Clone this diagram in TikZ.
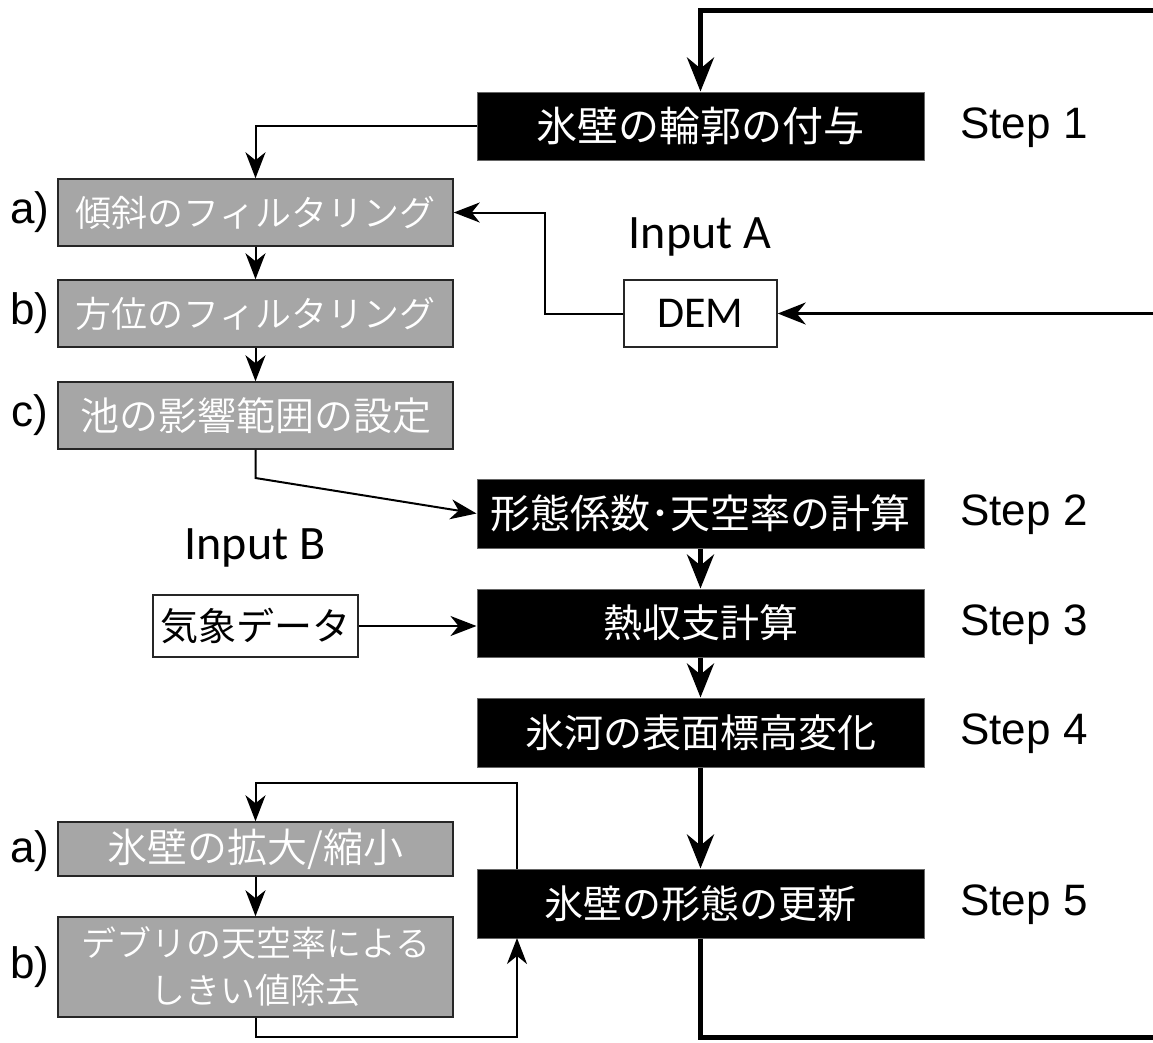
\documentclass[tikz,border=0pt]{standalone}
\usepackage{fontspec}
\setmainfont{Liberation Sans}
\newfontfamily\jpfont{Noto Sans CJK JP}
\newfontfamily\jplight{Noto Sans CJK JP}[UprightFont=* DemiLight]
\newfontfamily\calfont{Carlito}
\usetikzlibrary{arrows.meta,calc}
\begin{document}
\begin{tikzpicture}[x=1pt,y=-1pt,
  stepbox/.style={draw=black!60,line width=1pt,fill=black,text=white,minimum width=447pt,minimum height=68pt,inner sep=0pt,font=\jpfont\fontsize{39}{44}\selectfont},
  graybox/.style={draw=black!85,line width=1.5pt,fill=black!35,text=white,minimum width=395pt,minimum height=67pt,inner sep=0pt,font=\jplight\fontsize{36}{46}\selectfont,align=center},
  inbox/.style={draw=black!85,line width=1.5pt,fill=white,inner sep=0pt},
  steplabel/.style={font=\fontsize{44}{48}\selectfont},
  sublabel/.style={font=\fontsize{44}{48}\selectfont},
  thinline/.style={line width=2pt,-{Stealth[length=26pt,width=20pt,inset=8pt]}},
  thickline/.style={line width=5pt,-{Stealth[length=34pt,width=27pt,inset=11pt]}},
  midline/.style={line width=3pt,-{Stealth[length=28pt,width=22pt,inset=9pt]}}
]
\useasboundingbox (0,0) rectangle (1153,1042);
% steps
\node[stepbox,font=\jpfont\fontsize{41}{44}\selectfont] (s1) at (700.5,126) {氷壁の輪郭の付与};
\node[stepbox,minimum height=69pt,font=\jpfont\fontsize{40}{44}\selectfont] (s2) at (700.5,513.5) {形態係数･天空率の計算};
\node[stepbox] (s3) at (700.5,623) {熱収支計算};
\node[stepbox,minimum height=69pt] (s4) at (700.5,732.5) {氷河の表面標高変化};
\node[stepbox,minimum height=69pt] (s5) at (700.5,903.5) {氷壁の形態の更新};
\node[steplabel] (l1) at (1024,128) {Step 1};
\node[steplabel] (l2) at (1024,515) {Step 2};
\node[steplabel] (l3) at (1024,625) {Step 3};
\node[steplabel] (l4) at (1024,734) {Step 4};
\node[steplabel] (l5) at (1024,905) {Step 5};
% gray boxes top
\node[graybox] (ga) at (255.5,212.5) {傾斜のフィルタリング};
\node[graybox] (gb) at (255.5,313.5) {方位のフィルタリング};
\node[graybox,font=\jplight\fontsize{39}{46}\selectfont] (gc) at (255.5,415.5) {池の影響範囲の設定};
\node[sublabel] (la) at (30,212) {a)};
\node[sublabel] (lb) at (30,313) {b)};
\node[sublabel] (lc) at (30,415) {c)};
% inputs
\node[inbox,minimum width=153pt,minimum height=67pt,font=\calfont\fontsize{44}{48}\selectfont] (dem) at (700.5,313.5) {DEM};
\node[font=\calfont\fontsize{48}{52}\selectfont] (ia) at (700,237) {Input A};
\node[inbox,minimum width=205pt,minimum height=62pt,font=\jpfont\fontsize{38}{44}\selectfont] (met) at (255.5,626) {気象データ};
\node[font=\calfont\fontsize{48}{52}\selectfont] (ib) at (255,548) {Input B};
% gray boxes bottom
\node[graybox,minimum height=54pt,font=\jplight\fontsize{40}{46}\selectfont] (ha) at (255.5,849) {氷壁の拡大/縮小};
\node[graybox,minimum height=100pt,font=\jplight\fontsize{35}{47}\selectfont] (hb) at (255.5,967) {デブリの天空率による\\しきい値除去};
\node[sublabel] (lha) at (30,851) {a)};
\node[sublabel] (lhb) at (30,967) {b)};
% coordinates
\coordinate (topR) at (1160,10);
\coordinate (demR) at (1160,313.5);
\coordinate (botR) at (1160,1037);
% connectors
\draw[thickline] (topR) -- (700.5,10) -- (s1.north);
\draw[thinline] (s1.west) -| (ga.north);
\draw[thinline] (ga.south) -- (gb.north);
\draw[thinline] (gb.south) -- (gc.north);
\draw[midline] (demR) -- (dem.east);
\draw[thinline] (dem.west) -- (545,313.5) |- (ga.east);
\draw[thinline] (gc.south) -- (255.5,478) -- (s2.west);
\draw[thickline] (s2.south) -- (s3.north);
\draw[thickline] (s3.south) -- (s4.north);
\draw[thickline] (s4.south) -- (s5.north);
\draw[thinline] (met.east) -- (met.east -| s3.west);
\draw[line width=5pt] (s5.south) -- (700.5,1037) -- (botR);
\draw[thinline] (517,869) -- (517,783) -| (ha.north);
\draw[thinline] (ha.south) -- (hb.north);
\draw[thinline] (hb.south) -- (255.5,1037) -| (517,938);
\end{tikzpicture}
\end{document}
